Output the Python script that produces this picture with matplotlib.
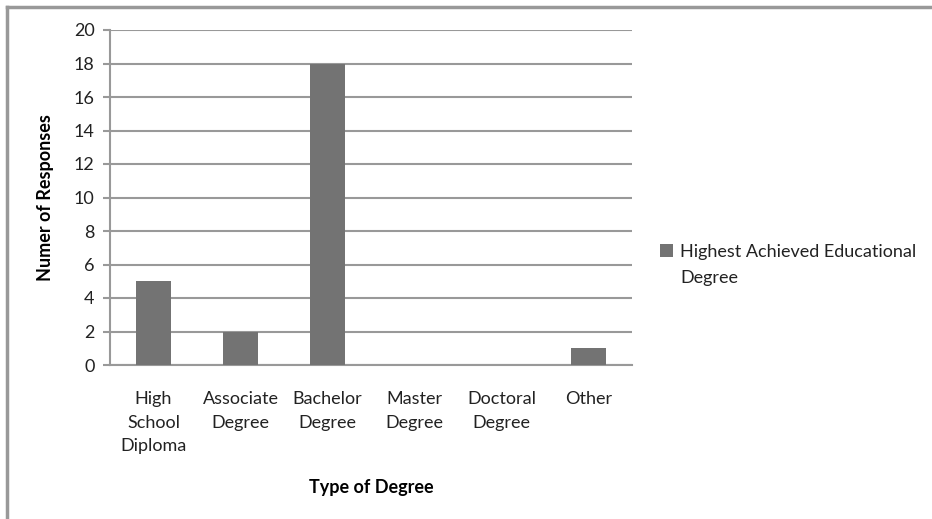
import numpy as np
import matplotlib.pyplot as plt
from matplotlib.lines import Line2D

plt.rcParams['font.family'] = ['Lato', 'DejaVu Sans']

categories = ["High\nSchool\nDiploma", "Associate\nDegree", "Bachelor\nDegree",
              "Master\nDegree", "Doctoral\nDegree", "Other"]
responses = [5, 2, 18, 0, 0, 1]
series_name = "Highest Achieved Educational\nDegree"

W, H = 932, 519
fig = plt.figure(figsize=(W / 100, H / 100), dpi=100)
fig.patch.set_facecolor('white')
ax = fig.add_axes([110 / W, 1 - 365 / H, (632 - 110) / W, (365 - 30) / H])

x = np.arange(len(categories))
bars = ax.bar(x, responses, width=0.4, color='#737373', label=series_name, zorder=3)

fs = 13
ax.set_xlim(-0.5, len(categories) - 0.5)
ax.set_ylim(0, 20)
ax.set_yticks(np.arange(0, 21, 2))
ax.set_xticks(x)
ax.set_xticklabels(categories, fontsize=fs, color='#222222', linespacing=1.55)
ax.tick_params(axis='x', length=0, pad=19)
ax.tick_params(axis='y', length=5, width=1.5, color='#999999', labelsize=fs,
               labelcolor='#222222', pad=6)
ax.grid(axis='y', color='#999999', linewidth=1.5, zorder=0)
for s in ['top', 'right']:
    ax.spines[s].set_visible(False)
ax.spines['left'].set_color('#999999')
ax.spines['left'].set_linewidth(1.5)
ax.spines['bottom'].set_color('#999999')
ax.spines['bottom'].set_linewidth(1.5)

ax.set_xlabel("Type of Degree", fontsize=fs, fontweight='bold', labelpad=18)
ax.set_ylabel("Numer of Responses", fontsize=fs, fontweight='bold', labelpad=14)

leg = ax.legend(loc='center left', bbox_to_anchor=(644 / W, 1 - 265 / H),
                bbox_transform=fig.transFigure, frameon=False, fontsize=fs,
                handlelength=0.7, handleheight=0.7, handletextpad=0.4)
for t in leg.get_texts():
    t.set_linespacing(1.7)
    t.set_color('#222222')
# put the swatch next to the first line of the label
for col in leg._legend_handle_box.get_children():
    for row in col.get_children():
        row.align = 'top'

# outer frame (top and left edges visible)
fig.add_artist(Line2D([7 / W, 1], [1 - 7 / H, 1 - 7 / H], color='#999999', lw=2.5,
                      transform=fig.transFigure))
fig.add_artist(Line2D([7 / W, 7 / W], [0, 1 - 7 / H], color='#999999', lw=2.5,
                      transform=fig.transFigure))

fig.savefig("out.png", dpi=100)
